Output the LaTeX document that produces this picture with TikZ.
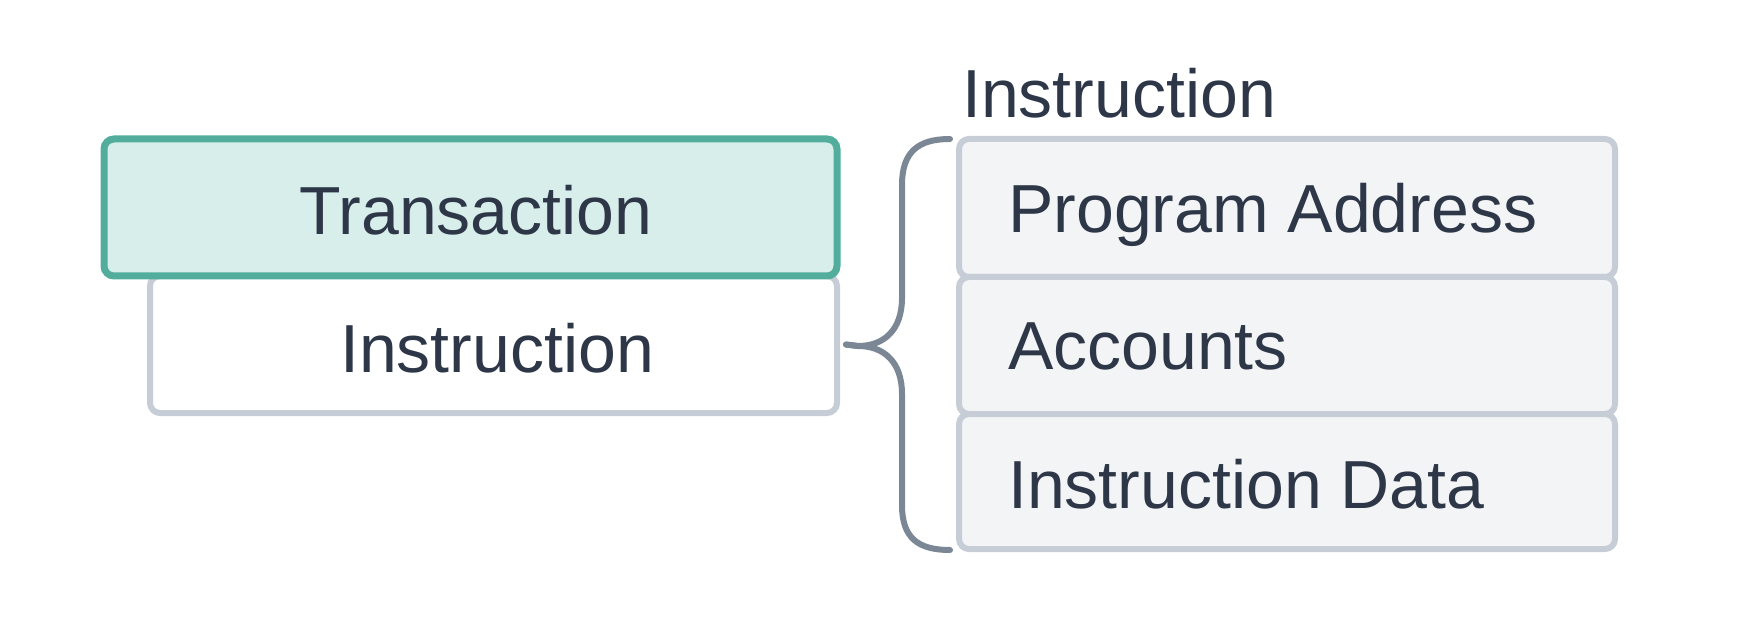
\documentclass[tikz,border=0pt]{standalone}
\usepackage{fontspec}
\setmainfont{Liberation Sans}
\definecolor{txt}{HTML}{2D3748}
\definecolor{teal}{HTML}{52AD9C}
\definecolor{tealfill}{HTML}{D8EEEB}
\definecolor{greyline}{HTML}{C6CDD6}
\definecolor{greyfill}{HTML}{F3F4F6}
\definecolor{bracec}{HTML}{7B8794}
\begin{document}
\begin{tikzpicture}[x=1pt,y=-1pt,
  box/.style={draw=greyline,line width=6pt,rounded corners=10pt,inner sep=0pt},
  txtstyle/.style={text=txt,font=\fontsize{68}{80}\selectfont,inner sep=0pt},
  bracestyle/.style={draw=bracec,line width=6pt,line cap=round}]
\useasboundingbox (0,0) rectangle (1738,636);
% left column
\node[box,fill=white,minimum width=687pt,minimum height=137pt] (insbox) at (493.5,344.5) {};
\node[box,draw=teal,line width=7pt,fill=tealfill,minimum width=733pt,minimum height=137pt] (trbox) at (470.5,207.5) {};
\node[txtstyle,anchor=base] (trtxt) at (476,235) {Transaction};
\node[txtstyle,anchor=base] (instxt) at (497,372) {Instruction};
% right column
\node[box,fill=greyfill,minimum width=656pt,minimum height=138pt] (pabox) at (1287,208) {};
\node[box,fill=greyfill,minimum width=656pt,minimum height=137pt] (acbox) at (1287,345.5) {};
\node[box,fill=greyfill,minimum width=656pt,minimum height=135pt] (idbox) at (1287,481.5) {};
\node[txtstyle,anchor=base west] (patxt) at (1008,233) {Program Address};
\node[txtstyle,anchor=base west] (actxt) at (1008,370) {Accounts};
\node[txtstyle,anchor=base west] (idtxt) at (1008,508) {Instruction Data};
\node[txtstyle,anchor=base west] (title) at (962,118) {Instruction};
% brace
\coordinate (btop) at (950,139);
\coordinate (bbot) at (950,550);
\coordinate (btip) at ([xshift=6pt]insbox.east);
\draw[bracestyle] (btop) .. controls (918,139) and (902,152) .. (902,185) -- (902,298)
  .. controls (902,330) and (884,346) .. (858,346) -- (btip);
\draw[bracestyle] (btip) -- (858,346) .. controls (884,346) and (902,362) .. (902,394)
  -- (902,505) .. controls (902,538) and (918,550) .. (bbot);
\end{tikzpicture}
\end{document}
